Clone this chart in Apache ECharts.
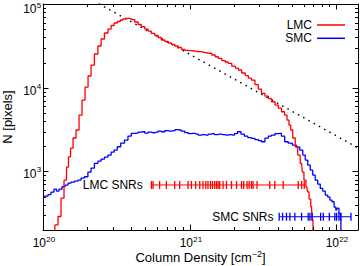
<!DOCTYPE html>
<html><head><meta charset="utf-8">
<script src="https://cdn.jsdelivr.net/npm/echarts@6/dist/echarts.min.js"></script>
<style>html,body{margin:0;padding:0;background:#fff}#c{width:362px;height:266px}</style>
</head><body><div id="c"></div>
<script>
const FONT = '"Liberation Sans", Arial, Helvetica, sans-serif';

// LMC histogram: log10 column density [cm^-2] and pixel counts
const lmcLogN = [20.070,20.092,20.113,20.133,20.154,20.167,20.181,20.195,20.215,20.236,20.256,20.277,20.297,20.318,20.338,20.364,20.386,20.407,20.432,20.455,20.475,20.496,20.518,20.537,20.557,20.580,20.598,20.614,20.639,20.660,20.682,20.707,20.728,20.750,20.776,20.796,20.819,20.844,20.865,20.887,20.912,20.933,20.956,20.981,21.001,21.029,21.049,21.070,21.097,21.118,21.138,21.165,21.186,21.206,21.234,21.254,21.275,21.302,21.323,21.343,21.370,21.391,21.412,21.434,21.459,21.480,21.502,21.528,21.548,21.571,21.596,21.617,21.639,21.658,21.673,21.685,21.697,21.712,21.731,21.746,21.765,21.774,21.788,21.801,21.810,21.822,21.833,21.840,21.846];
const lmcCounts = [150,230,290,480,790,1130,1490,1900,2510,3130,4720,7130,10190,13800,18670,25270,31500,38190,45040,50250,55350,59290,61790,64400,66570,67490,66570,64940,60950,56890,53560,50250,47560,44670,42050,39800,37150,35650,34200,33000,31500,30220,28770,27990,27690,27450,27080,26960,26490,25980,25800,24590,23460,22450,21130,20280,19560,18160,17190,16280,14990,13990,13060,12360,10920,9650,8570,7960,7430,6800,6210,5720,5170,4720,4110,3580,3130,2510,1970,1570,1250,984,789,651,572,468,379,263,150];

// SMC histogram
const smcLogN = [20.000,20.024,20.044,20.065,20.085,20.099,20.120,20.140,20.161,20.181,20.202,20.229,20.249,20.270,20.295,20.318,20.338,20.364,20.386,20.407,20.432,20.455,20.475,20.496,20.518,20.543,20.569,20.591,20.614,20.639,20.660,20.682,20.707,20.728,20.750,20.776,20.796,20.819,20.844,20.865,20.892,20.912,20.933,20.954,20.981,21.001,21.024,21.049,21.070,21.090,21.116,21.138,21.159,21.179,21.206,21.227,21.254,21.275,21.297,21.316,21.338,21.364,21.384,21.412,21.434,21.459,21.480,21.502,21.528,21.548,21.571,21.596,21.617,21.637,21.662,21.685,21.719,21.740,21.765,21.781,21.799,21.815,21.833,21.849,21.867,21.883,21.902,21.917,21.936,21.951,21.965,21.981,21.993,22.004,22.013,22.027,22.040];
const smcCounts = [494,508,530,567,616,583,616,660,688,727,747,768,789,834,865,984,1099,1250,1331,1406,1486,1570,1706,1803,1973,2185,2373,2649,2853,2876,2956,2980,2876,2956,2900,2956,3039,2980,3081,3039,3081,3167,3126,3039,2917,2838,2853,2799,2723,2761,2723,2799,2838,2761,2799,2761,2723,2761,2723,2838,2980,2799,2649,2542,2487,2405,2340,2264,2506,2649,2723,2838,2853,2649,2264,2185,2068,1957,1803,1570,1368,1193,1040,906,789,707,628,583,523,494,455,435,376,346,365,316,150];

// power-law fit (dotted)
const fitLogN = [20.38, 22.16];
const fitCounts = [101000, 1870];

// SNR column densities
const lmcSnrLogN = [20.740,20.751,20.796,20.842,20.899,20.933,20.990,21.013,21.042,21.070,21.092,21.111,21.126,21.143,21.157,21.172,21.184,21.195,21.206,21.229,21.252,21.286,21.321,21.355,21.370,21.393,21.407,21.423,21.434,21.461,21.548,21.582,21.639,21.742,21.765,21.783];
const smcSnrLogN = [21.612,21.635,21.662,21.685,21.719,21.765,21.810,21.822,21.837,21.895,21.913,21.954,21.992,22.004,22.020,22.031,22.102];
const lmcSnrLevel = 690;
const smcSnrLevel = 288;

const xMajorTicks = [20, 21, 22];
const xTickLabels = ['20', '21', '22'];
const yMajorTicks = [3, 4, 5];
const yTickLabels = ['3', '4', '5'];
const minorMultipliers = [2,3,4,5,6,7,8,9];

const X_MIN = 20, X_MAX = 22.15, Y_MIN = Math.log10(200), Y_MAX = 5;
const L = Math.log10;

function minorList(lo, hi) {
  const out = [];
  for (let n = Math.floor(lo); n <= Math.ceil(hi); n++)
    for (const k of minorMultipliers) { const v = n + L(k); if (v > lo + 1e-6 && v < hi - 1e-6) out.push(v); }
  return out;
}
const xTickData = xMajorTicks.map(v => [v, Y_MIN, 1]).concat(minorList(X_MIN, X_MAX).map(v => [v, Y_MIN, 0]));
const yTickData = yMajorTicks.map(v => [X_MIN, v, 1]).concat(minorList(Y_MIN, Y_MAX).map(v => [X_MIN, v, 0]));

const pairs = (xs, ys) => xs.map((x, i) => [x, L(ys[i])]);
const st = { stroke: '#000', lineWidth: 1 };
const MAJ = 5.5, MIN = 3;

const chart = echarts.init(document.getElementById('c'), null, { renderer: 'svg' });
chart.setOption({
  animation: false,
  backgroundColor: '#fff',
  textStyle: { fontFamily: FONT },
  grid: { left: 43, right: 4, top: 4, bottom: 36, containLabel: false, outerBoundsMode: 'none' },
  legend: {
    data: ['LMC', 'SMC'], orient: 'vertical', right: 12, top: 13.5, align: 'right',
    icon: 'rect', itemWidth: 28, itemHeight: 1.5, itemGap: 0.3,
    textStyle: { fontSize: 12, lineHeight: 13, color: '#000', fontFamily: FONT }
  },
  xAxis: [
    { type: 'value', min: X_MIN, max: X_MAX, interval: 1, position: 'bottom',
      name: '{a|Column Density [cm}{s|\u22122}{a|]}', nameLocation: 'middle', nameGap: 19,
      nameTextStyle: { rich: { a: { fontSize: 13, lineHeight: 16, color: '#000', fontFamily: FONT },
                               s: { fontSize: 9, lineHeight: 10, verticalAlign: 'top', color: '#000', fontFamily: FONT } } },
      axisLine: { show: true, lineStyle: { color: '#000', width: 1 } },
      axisTick: { show: false }, axisLabel: { show: false }, splitLine: { show: false } },
    { type: 'value', min: X_MIN, max: X_MAX, interval: 1, position: 'top',
      axisLine: { show: true, lineStyle: { color: '#000', width: 1 } },
      axisTick: { show: false }, axisLabel: { show: false }, splitLine: { show: false } }
  ],
  yAxis: [
    { type: 'value', min: Y_MIN, max: Y_MAX, position: 'left',
      name: 'N [pixels]', nameLocation: 'middle', nameGap: 29, nameRotate: 90,
      nameTextStyle: { fontSize: 13, color: '#000', fontFamily: FONT },
      axisLine: { show: true, lineStyle: { color: '#000', width: 1 } },
      axisTick: { show: false }, axisLabel: { show: false }, splitLine: { show: false } },
    { type: 'value', min: Y_MIN, max: Y_MAX, position: 'right',
      axisLine: { show: true, lineStyle: { color: '#000', width: 1 } },
      axisTick: { show: false }, axisLabel: { show: false }, splitLine: { show: false } }
  ],
  series: [
    { name: 'fit', type: 'line', data: pairs(fitLogN, fitCounts), symbol: 'none', silent: true,
      lineStyle: { color: '#000', width: 1.5, type: [1.5, 4.5] }, z: 1 },
    { name: 'LMC', type: 'line', step: 'middle', data: pairs(lmcLogN, lmcCounts), symbol: 'none',
      color: '#ff0000', lineStyle: { color: '#ff0000', width: 1.3 }, z: 3 },
    { name: 'SMC', type: 'line', step: 'middle', data: pairs(smcLogN, smcCounts), symbol: 'none',
      color: '#0000ff', lineStyle: { color: '#0000ff', width: 1.3 }, z: 2 },
    { name: 'LMC SNRs', type: 'line', symbol: 'rect', symbolSize: [1.3, 8], showSymbol: true,
      color: '#ff0000', lineStyle: { color: '#ff0000', width: 1 }, itemStyle: { color: '#ff0000' }, z: 4,
      data: lmcSnrLogN.map((x, i) => i === 0
        ? { value: [x, L(lmcSnrLevel)], label: { show: true, position: 'left', distance: 8, formatter: 'LMC SNRs', color: '#000', fontSize: 12, fontFamily: FONT } }
        : [x, L(lmcSnrLevel)]) },
    { name: 'SMC SNRs', type: 'line', symbol: 'rect', symbolSize: [1.3, 8], showSymbol: true,
      color: '#0000ff', lineStyle: { color: '#0000ff', width: 1 }, itemStyle: { color: '#0000ff' }, z: 4,
      data: smcSnrLogN.map((x, i) => i === 0
        ? { value: [x, L(smcSnrLevel)], label: { show: true, position: 'left', distance: 5, formatter: 'SMC SNRs', color: '#000', fontSize: 12, fontFamily: FONT } }
        : [x, L(smcSnrLevel)]) },
    { name: 'xticks', type: 'custom', data: xTickData, silent: true, z: 10, clip: false,
      renderItem: (params, api) => {
        const cs = params.coordSys;
        const px = Math.round(api.coord([api.value(0), Y_MIN])[0]) + 0.5;
        const major = api.value(2) === 1;
        const len = major ? MAJ : MIN;
        const b = cs.y + cs.height;
        const ch = [
          { type: 'line', shape: { x1: px, y1: b, x2: px, y2: b - len }, style: st },
          { type: 'line', shape: { x1: px, y1: cs.y, x2: px, y2: cs.y + len }, style: st }
        ];
        if (major) {
          const lab = xTickLabels[params.dataIndex];
          ch.push({ type: 'text', x: px + 2.5, y: b + 13, style: { text: '10', font: '12px ' + FONT, fill: '#000', align: 'right', verticalAlign: 'middle' } });
          ch.push({ type: 'text', x: px + 2.8, y: b + 9, style: { text: lab, font: '8px ' + FONT, fill: '#000', align: 'left', verticalAlign: 'middle' } });
        }
        return { type: 'group', children: ch };
      } },
    { name: 'yticks', type: 'custom', data: yTickData, silent: true, z: 10, clip: false,
      renderItem: (params, api) => {
        const cs = params.coordSys;
        const py = Math.round(api.coord([X_MIN, api.value(1)])[1]) + 0.5;
        const major = api.value(2) === 1;
        const len = major ? MAJ : MIN;
        const r = cs.x + cs.width;
        const ch = [
          { type: 'line', shape: { x1: cs.x, y1: py, x2: cs.x + len, y2: py }, style: st },
          { type: 'line', shape: { x1: r, y1: py, x2: r - len, y2: py }, style: st }
        ];
        if (major) {
          const lab = yTickLabels[params.dataIndex];
          const by = Math.max(py + 2, 8.5);
          const sy = Math.max(py - 2.5, 5.5);
          ch.push({ type: 'text', x: cs.x - 6.5, y: by, style: { text: '10', font: '12px ' + FONT, fill: '#000', align: 'right', verticalAlign: 'middle' } });
          ch.push({ type: 'text', x: cs.x - 6.2, y: sy, style: { text: lab, font: '8px ' + FONT, fill: '#000', align: 'left', verticalAlign: 'middle' } });
        }
        return { type: 'group', children: ch };
      } }
  ]
});
</script></body></html>
